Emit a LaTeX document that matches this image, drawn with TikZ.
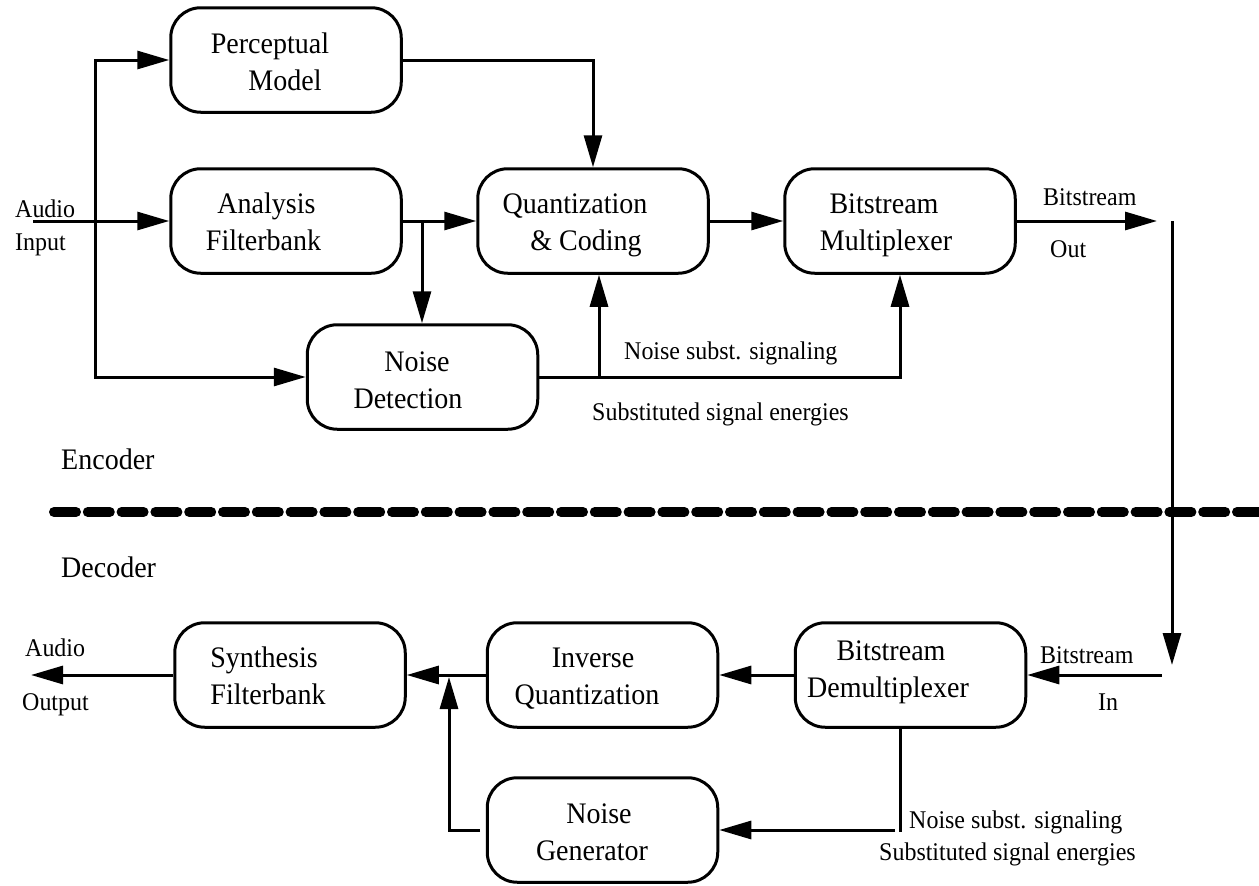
\documentclass[tikz,border=0pt]{standalone}
\usepackage{fontspec}
\setmainfont{Liberation Serif}[FakeStretch=0.94]
\usetikzlibrary{arrows.meta}
\newcommand\twol[3][29.5]{\rule{0pt}{#1pt}#2\\#3\rule[-8pt]{0pt}{8pt}}
\begin{document}
\begin{tikzpicture}[x=1pt,y=-1pt,
  blk/.style={draw,line width=3pt,rounded corners=30pt,minimum width=230.5pt,minimum height=104.5pt,align=center,inner sep=0pt,font=\fontsize{29.8}{37.5}\selectfont},
  arr/.style={line width=3pt,-{Triangle[length=32pt,width=18pt]}},
  ln/.style={line width=3pt},
  lab/.style={anchor=base west,inner sep=0pt,font=\fontsize{25.5}{28}\selectfont},
  big/.style={anchor=base west,inner sep=0pt,font=\fontsize{29.8}{30}\selectfont}]
\useasboundingbox (0,0) rectangle (1259,886);
% encoder boxes
\node[blk] (PM) at (286,60) {\twol[31.5]{Perceptual\hspace*{32pt}}{Model\hspace*{2pt}}};
\node[blk] (AF) at (286,221) {\twol{Analysis\hspace*{39pt}}{Filterbank\hspace*{45pt}}};
\node[blk] (QC) at (593,221) {\twol{Quantization\hspace*{36pt}}{\&\ Coding\hspace*{14pt}}};
\node[blk] (MX) at (900,221) {\twol{Bitstream\hspace*{32pt}}{Multiplexer\hspace*{28pt}}};
\node[blk] (ND) at (422.5,377) {\twol[33.5]{Noise\hspace*{11pt}}{Detection\hspace*{29pt}}};
% decoder boxes
\node[blk] (SF) at (290,675) {\twol{Synthesis\hspace*{52pt}}{Filterbank\hspace*{44pt}}};
\node[blk] (IQ) at (602.5,675) {\twol{Inverse\hspace*{19pt}}{Quantization\hspace*{31pt}}};
\node[blk] (DM) at (910.5,675) {\rule{0pt}{15pt}Bitstream\hspace*{39pt}\\Demultiplexer\hspace*{45pt}\rule[-12pt]{0pt}{12pt}};
\node[blk] (NG) at (602.5,830) {\twol[31.5]{Noise\hspace*{7pt}}{Generator\hspace*{21pt}}};
% separator
\draw[line width=10pt,line cap=round,dash pattern=on 22pt off 11.8pt] (54,512) -- (1275,512);
% encoder connectors
\coordinate (ain) at (33,221);
\coordinate (jin) at (95,221);
\draw[arr] (ain) -- (AF.west);
\draw[arr] (jin) |- (PM.west);
\draw[arr] (jin) |- (ND.west);
\draw[arr] (PM.east) -| (QC.north);
\draw[arr] (AF.east) -- (QC.west);
\coordinate (jaf) at (422,221);
\draw[arr] (jaf) -- (jaf |- ND.north);
\draw[arr] (QC.east) -- (MX.west);
\draw[arr] (ND.east) -| (MX.south);
\coordinate (jnd) at (599,377);
\draw[arr] (jnd) -- (jnd |- QC.south);
\coordinate (bout) at (1157,221);
\draw[arr] (MX.east) -- (bout);
\coordinate (vtop) at (1172,221);
\coordinate (vbot) at (1172,665);
\draw[arr] (vtop) -- (vbot);
% decoder connectors
\coordinate (bin) at (1162,675);
\draw[arr] (bin) -- (DM.east);
\draw[arr] (DM.west) -- (IQ.east);
\draw[arr] (IQ.west) -- (SF.east);
\coordinate (aout) at (31,675);
\draw[arr] (SF.west) -- (aout);
\coordinate (dmb) at (900,832);
\draw[ln] (dmb |- DM.south) -- (dmb);
\coordinate (dmh) at (895,830);
\draw[arr] (dmh) -- (NG.east);
\coordinate (ngs) at (480,830);
\coordinate (ngt) at (449,677);
\draw[arr] (ngs) -| (ngt);
% labels
\node[lab] (la1) at (15,217) {Audio};
\node[lab] (la2) at (15,250) {Input};
\node[lab] (lb1) at (1043,205) {Bitstream};
\node[lab] (lb2) at (1050,257) {Out};
\node[lab] (ln1) at (624,359) {Noise subst. signaling};
\node[lab] (ln2) at (592,420) {Substituted signal energies};
\node[big] (enc) at (61,469) {Encoder};
\node[big] (dec) at (61,577) {Decoder};
\node[lab] (lb3) at (1040,663) {Bitstream};
\node[lab] (lb4) at (1098,710) {In};
\node[lab] (ln3) at (909,828) {Noise subst. signaling};
\node[lab] (ln4) at (879,860) {Substituted signal energies};
\node[lab] (la3) at (25,656) {Audio};
\node[lab] (la4) at (22,710) {Output};
\end{tikzpicture}
\end{document}
